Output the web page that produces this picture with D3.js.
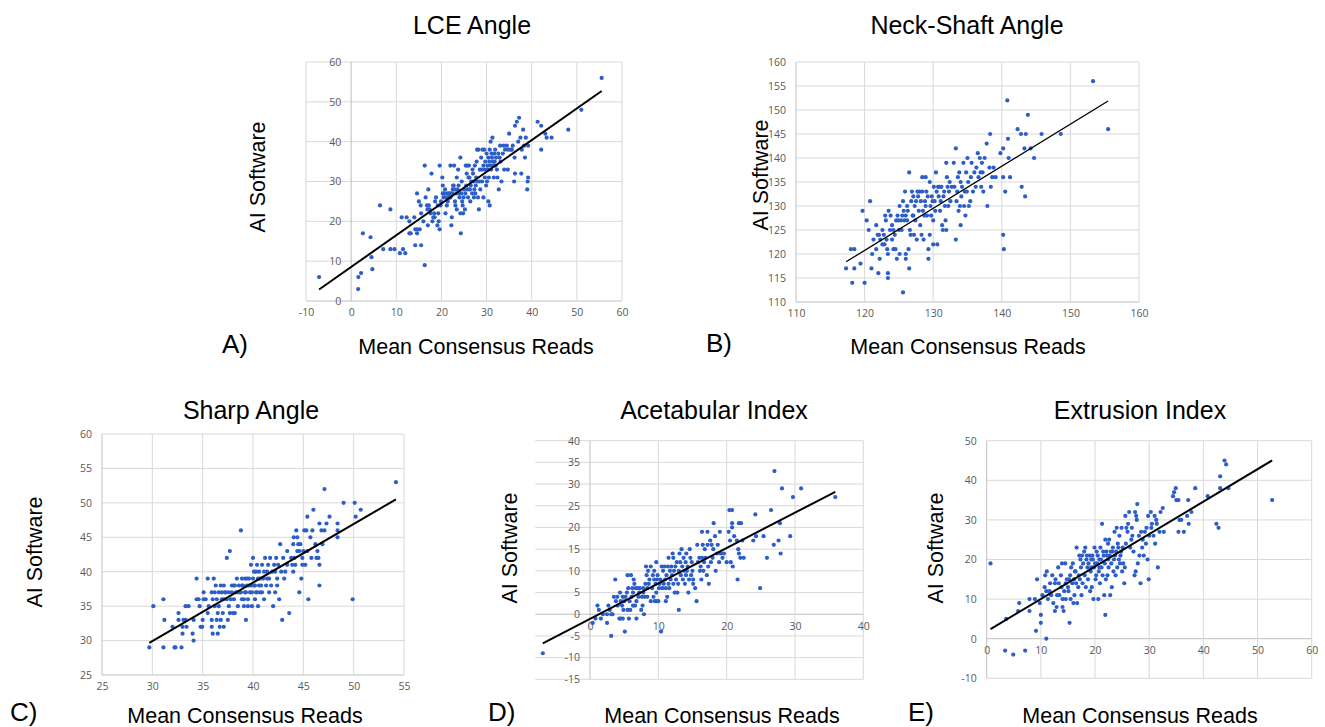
<!DOCTYPE html>
<html><head><meta charset="utf-8">
<script src="https://cdn.jsdelivr.net/npm/d3@7"></script>
<style>body{margin:0;background:#fff}svg{display:block}</style>
</head><body>
<svg id="chart" width="1325" height="727"></svg>
<script>
// ---------- DATA ----------
const panelTitles = ["LCE Angle", "Neck-Shaft Angle", "Sharp Angle", "Acetabular Index", "Extrusion Index"];
const panelLetters = ["A)", "B)", "C)", "D)", "E)"];
const xAxisTitle = "Mean Consensus Reads";
const yAxisTitle = "AI Software";

const lceXTicks = [-10, 0, 10, 20, 30, 40, 50, 60];
const lceYTicks = [0, 10, 20, 30, 40, 50, 60];
const nsaXTicks = [110, 120, 130, 140, 150, 160];
const nsaYTicks = [110, 115, 120, 125, 130, 135, 140, 145, 150, 155, 160];
const sharpXTicks = [25, 30, 35, 40, 45, 50, 55];
const sharpYTicks = [25, 30, 35, 40, 45, 50, 55, 60];
const acetXTicks = [0, 10, 20, 30, 40];
const acetYTicks = [-15, -10, -5, 0, 5, 10, 15, 20, 25, 30, 35, 40];
const extrXTicks = [0, 10, 20, 30, 40, 50, 60];
const extrYTicks = [-10, 0, 10, 20, 30, 40, 50];

// trend lines: [slope, intercept]
const lceTrend = [0.796, 8.55];
const nsaTrend = [0.877, 15.5];
const sharpTrend = [0.851, 4.38];
const acetTrend = [0.816, -1.07];
const extrTrend = [0.819, 1.85];

const lcePoints = [[-7.1,6],[1.6,6],[2.2,7],[1.55,3],[2.6,17],[4.3,16],[4.5,11],[4.7,8],[6.4,24],[7.1,13],[8.7,23],[8.7,13],[9.6,13],[10.8,12],[11.2,21],[11.5,13],[12,12],[12.3,21],[12.9,20],[12.9,17],[13.2,17],[14,21],[14.2,18],[14.2,14],[14.6,18],[14.6,17],[14.6,27],[15,25],[15.2,18],[15.4,24],[15.5,14],[15.5,22],[16,20],[16.3,34],[16.3,9],[16.5,26],[16.8,24],[17,19],[17.1,28],[17.2,24],[17.4,23],[17.8,32],[18,20],[18.2,21],[18.4,22],[18.6,25],[18.8,26],[19.1,19],[19.3,22],[19.4,20],[19.6,18],[19.6,34],[19.8,24],[20.2,31],[20.3,29],[20.3,27],[20.5,26],[20.9,22],[21.2,24],[21.4,25],[21.7,27],[21.8,26],[22,34],[22.2,19],[22.3,21],[22.5,28],[22.7,29],[22.8,34],[23,25],[23.1,24],[23.4,23],[23.4,31],[23.7,33],[23.9,27],[24,26],[24.2,22],[24.2,36],[24.3,17],[24.5,30],[24.6,25],[24.8,22],[25,28],[25.2,23],[25.4,34],[25.5,29],[25.6,32],[25.9,26],[26.1,34],[26.2,31],[26.4,25],[26.5,29],[26.8,27],[27,32],[27.1,30],[27.3,28],[27.6,29],[27.7,31],[27.9,38],[28.1,26],[28.3,23],[28.5,33],[28.6,28],[28.8,36],[29,30],[29.1,38],[29.3,26],[29.6,31],[29.7,35],[29.9,29],[30,37],[30.2,34],[30.4,25],[30.5,31],[30.7,38],[30.7,24],[30.9,40],[31,33],[31.3,41],[31.4,35],[31.6,31],[31.7,37],[31.9,38],[32,34],[32.3,33],[32.4,31],[32.7,28],[33,39],[33.1,35],[33.3,30],[33.6,37],[33.9,33],[34.1,38],[34.5,39],[34.7,33],[35,42],[35.3,38],[35.8,39],[36.1,30],[36.2,36],[36.3,32],[36.3,44],[36.7,45],[37,40],[37.2,46],[37.5,41],[37.7,32],[37.8,38],[38.1,43],[38.3,39],[38.5,36],[38.7,41],[39,28],[39.1,30],[39.2,31],[39.2,39],[41.3,45],[42.1,44],[42.1,38],[43,42],[43.3,41],[44.4,41],[48.1,43],[51,48],[55.5,56],
[20.6,27],[21,26],[21.3,27],[22,26],[22.4,27],[22.9,28],[23.3,27],[23.6,28],[24.4,27],[24.9,26],[25.3,27],[25.8,28],[26.3,28],[26.6,30],[27.2,26],[27.5,27],[27.9,30],[28.4,30],[28.9,33],[29.3,34],[29.6,33],[30.1,30],[30.3,33],[30.6,35],[30.9,34],[31.2,36],[31.5,34],[31.8,35],[32.1,36],[32.6,37],[28.2,38],[29.5,38],[30.4,36],[31.1,37],[26.9,33],[27.4,34],[25.7,34],[23.8,29],[22.6,29],[21.5,26],[20.8,28],[19.9,25],[19.2,24],[18.5,21],[17.6,22],[16.9,23],[21.9,27],[24.7,24],[26,31],[27.8,35],[32.9,36],[33.8,39],[35.6,38],[34.8,38]];

const nsaPoints = [[117.3,117],[118,121],[118.2,114],[118.5,121],[118.5,117],[119.4,118],[119.7,129],[120,114],[120.3,127],[120.6,125],[120.8,131],[121,117],[121.1,120],[121.3,123],[121.7,126],[121.7,121],[122,116],[122.1,124],[122.2,119],[122.3,123],[122.6,125],[122.6,122],[122.8,124],[123,128],[123.1,127],[123.2,123],[123.3,121],[123.4,120],[123.4,116],[123.4,115],[123.5,129],[123.7,125],[124,126],[124,123],[124.2,125],[124.2,121],[124.5,121],[124.6,127],[124.7,119],[124.8,128],[125,125],[125.1,120],[125.1,130],[125.3,127],[125.4,125],[125.5,128],[125.6,112],[125.6,131],[125.8,127],[125.9,133],[126,128],[126,120],[126,119],[126.2,130],[126.3,129],[126.4,121],[126.5,137],[126.5,117],[126.6,125],[126.7,124],[126.9,133],[127,128],[127.1,132],[127.2,124],[127.3,130],[127.4,127],[127.6,123],[127.7,133],[127.8,132],[127.9,129],[128.1,126],[128.2,131],[128.3,124],[128.4,136],[128.4,133],[128.6,123],[128.7,128],[128.8,131],[128.9,136],[129,133],[129.1,128],[129.3,119],[129.3,121],[129.5,135],[129.5,124],[129.6,130],[129.8,132],[130,127],[130,122],[130.1,134],[130.2,131],[130.3,129],[130.4,137],[130.6,122],[130.7,134],[130.8,132],[131,129],[131.2,134],[131.3,126],[131.4,125],[131.5,132],[131.7,130],[131.8,127],[131.9,125],[131.9,139],[132,136],[132.1,134],[132.2,130],[132.3,133],[132.5,131],[133,139],[133.3,142],[133.3,123],[133.4,131],[133.5,133],[133.7,129],[133.8,137],[133.9,130],[134,126],[134,135],[134.1,132],[134.2,134],[134.4,139],[134.5,130],[134.7,128],[134.9,133],[135,140],[135.1,135],[135.2,130],[135.4,131],[135.6,139],[135.8,133],[136.2,134],[136.3,138],[136.5,141],[136.6,136],[136.8,140],[137,134],[137.1,139],[137.3,133],[137.5,140],[137.8,143],[137.9,130],[138.2,138],[138.3,145],[138.4,134],[138.6,136],[138.8,138],[139.1,136],[139.8,141],[140.2,142],[140.2,124],[140.2,136],[140.3,121],[140.5,133],[140.8,152],[140.9,144],[141,140],[141.2,136],[142.3,146],[142.8,145],[142.9,134],[143.3,142],[143.4,132],[143.5,145],[143.8,149],[144.2,142],[144.7,140],[145.8,145],[148.6,145],[153.3,156],[155.5,146],
[124.9,127],[125.7,129],[126.8,131],[127.5,131],[128,133],[128.5,129],[129.2,132],[129.9,131],[130.5,133],[131.1,131],[131.6,133],[132.7,134],[133.1,134],[134.6,133],[135.5,136],[136,137],[136.9,137],[137.2,137],[126.2,127],[127.1,128],[128.9,130],[130.9,134],[132.4,135],[134.8,137],[122.9,122],[124.4,124],[121.9,124],[123.8,128],[129.7,128],[133.6,136]];

const sharpPoints = [[29.7,29],[30.1,35],[31.1,29],[31.1,36],[31.2,33],[32,32],[32.2,29],[32.3,29],[32.6,34],[32.6,33],[32.9,29],[33,31],[33,32],[33.1,33],[33.3,33],[33.3,35],[33.4,32],[33.6,35],[34,31],[34.1,33],[34.1,30],[34.4,39],[34.4,36],[34.6,36],[34.7,35],[34.8,32],[34.96,32],[35,33],[35.1,37],[35.1,36],[35.3,36],[35.5,39],[35.5,34],[35.6,35],[35.9,37],[35.9,32],[35.9,33],[36,31],[36,36],[36.1,39],[36.2,35],[36.3,38],[36.4,33],[36.4,36],[36.5,31],[36.5,34],[36.6,37],[36.6,35],[36.7,32],[36.8,38],[36.8,33],[36.9,36],[37,34],[37.1,38],[37.1,32],[37.2,37],[37.4,42],[37.4,36],[37.5,33],[37.6,35],[37.7,43],[37.7,34],[37.8,36],[37.9,37],[38,34],[38.1,38],[38.1,36],[38.2,34],[38.3,37],[38.4,39],[38.5,35],[38.6,38],[38.7,37],[38.8,46],[38.9,39],[38.9,36],[39,38],[39.1,35],[39.2,37],[39.2,39],[39.3,33],[39.4,38],[39.5,36],[39.5,35],[39.6,39],[39.7,37],[39.8,41],[39.8,38],[39.9,35],[40,39],[40,42],[40.1,40],[40.2,36],[40.2,38],[40.3,37],[40.4,41],[40.5,39],[40.5,35],[40.6,40],[40.7,37],[40.8,38],[40.9,41],[41,39],[41.1,36],[41.2,42],[41.3,38],[41.4,40],[41.5,41],[41.6,37],[41.6,39],[41.7,42],[41.8,38],[41.9,40],[42,35],[42.1,41],[42.2,37],[42.3,42],[42.4,39],[42.4,38],[42.5,41],[42.6,36],[42.7,44],[42.8,40],[42.9,33],[43,42],[43.1,39],[43.2,40],[43.4,41],[43.6,34],[43.8,42],[43.9,41],[44,44],[44,40],[44.05,45],[44.2,41],[44.3,46],[44.4,45],[44.4,43],[44.5,44],[44.6,37],[44.6,43],[44.7,44],[44.8,39],[44.9,42],[44.9,41],[45,43],[45.1,46],[45.2,41],[45.3,46],[45.4,48],[45.4,43],[45.5,36],[45.7,45],[45.8,42],[45.9,46],[46,49],[46.2,44],[46.3,42],[46.4,43],[46.5,42],[46.6,41],[46.6,38],[46.6,47],[46.8,46],[46.9,44],[47.1,52],[47.1,46],[47.3,47],[47.6,48],[48.4,47],[48.4,46],[48.4,45],[49,50],[49.9,36],[50.1,50],[50.2,48],[50.7,49],[54.2,53],
[38.2,38],[38.5,37],[38.8,37],[39.3,37],[39.6,38],[39.9,37],[40.1,38],[40.4,37],[40.6,38],[40.9,37],[41.1,40],[40.3,40],[39.4,39],[38.9,38],[37.3,37],[37.6,37],[36.9,37],[37.9,38],[39.1,36],[40.7,39],[41.4,39],[42.2,40],[43.4,43],[44.1,42],[37.1,36],[36.2,37]];

const acetPoints = [[-6.9,-9],[0.4,-2],[0.8,-1],[1.1,2],[1.3,1],[1.6,-1],[1.9,0],[2.5,-2],[2.5,0],[2.7,2],[2.9,1],[3.1,-5],[3.1,0],[3.3,0],[3.5,4],[3.7,8],[3.8,3],[4,4],[4.05,2],[4.3,-1],[4.4,5],[4.5,3],[4.5,-1],[4.7,2],[4.8,4],[4.8,-1],[4.9,1],[5,3],[5.1,-4],[5.2,4],[5.4,5],[5.5,1],[5.5,9],[5.6,6],[5.7,-1],[5.8,3],[5.9,1],[6,9],[6.1,4],[6.2,6],[6.3,2],[6.3,5],[6.4,8],[6.5,7],[6.6,2],[6.7,6],[6.8,3],[6.8,-1],[7,6],[7.1,4],[7.2,5],[7.3,6],[7.5,1],[7.6,4],[7.7,2],[7.8,6],[7.8,5],[7.9,0],[8,4],[8.1,7],[8.2,11],[8.3,9],[8.4,4],[8.4,6],[8.5,10],[8.6,7],[8.7,8],[8.9,3],[8.9,11],[9.1,6],[9.2,9],[9.3,4],[9.4,8],[9.4,10],[9.5,3],[9.6,7],[9.7,12],[9.7,5],[9.8,3],[9.8,8],[9.9,9],[10,3],[10.1,6],[10.2,7],[10.3,8],[10.4,-4],[10.5,11],[10.6,6],[10.7,10],[10.8,7],[10.9,11],[11,8],[11.1,3],[11.1,6],[11.2,9],[11.3,4],[11.4,11],[11.5,7],[11.5,13],[11.6,6],[11.7,10],[11.8,8],[11.9,11],[12,9],[12.1,14],[12.2,7],[12.2,13],[12.3,10],[12.4,5],[12.5,11],[12.6,8],[12.7,12],[12.8,5],[12.9,7],[13,1],[13,10],[13.1,14],[13.2,12],[13.3,9],[13.4,15],[13.5,11],[13.6,8],[13.7,13],[13.8,10],[13.9,7],[14,12],[14.05,9],[14.1,14],[14.2,10],[14.3,11],[14.4,5],[14.5,8],[14.6,15],[14.7,13],[14.8,9],[14.9,12],[15,10],[15.1,7],[15.1,8],[15.4,6],[15.6,3],[15.7,16],[15.8,12],[16,13],[16.1,10],[16.2,11],[16.3,8],[16.4,13],[16.4,19],[16.5,16],[16.6,10],[16.7,12],[16.8,15],[16.9,13],[17.1,9],[17.2,16],[17.2,19],[17.3,11],[17.4,7],[17.6,17],[17.7,12],[17.8,16],[17.95,13],[18.05,15],[18.1,21],[18.3,18],[18.4,10],[18.6,14],[18.7,16],[18.9,12],[19,19],[19.1,14],[19.4,13],[19.6,14],[20,12],[20.3,19],[20.4,24],[20.5,17],[20.6,12],[20.8,24],[20.8,21],[20.8,20],[20.9,11],[21.1,18],[21.5,17],[21.6,8],[21.7,15],[21.8,21],[21.8,14],[22,13],[22.1,21],[22.3,17],[22.5,13],[23.9,17],[24.2,23],[24.3,18],[24.9,6],[25.4,18],[25.9,13],[26.5,24],[26.9,16],[27,33],[27.6,17],[27.8,21],[27.9,14],[28.1,29],[29.3,18],[29.7,27],[30.9,29],[35.9,27]];

const extrPoints = [[0.7,19],[3.4,-3],[3.6,5],[4.9,-4],[5.8,7],[6,9],[7.1,-3],[7.9,7],[7.9,10],[8.9,10],[9.1,2],[9.3,15],[9.8,9],[10,6],[10,4],[10.3,11],[10.7,13],[10.8,16],[11,12],[11,0],[11.1,17],[11.3,10],[11.6,12],[11.7,14],[11.9,11],[12.1,16],[12.3,9],[12.6,7],[12.6,14],[12.7,15],[12.9,8],[13,11],[13.2,18],[13.3,14],[13.4,11],[13.7,16],[13.8,13],[13.9,19],[14,8],[14,10],[14.2,7],[14.3,12],[14.5,19],[14.6,10],[14.6,14],[14.8,15],[15,13],[15.1,12],[15.3,4],[15.4,16],[15.5,10],[15.6,18],[15.8,14],[15.9,19],[16,9],[16.1,15],[16.2,11],[16.4,17],[16.5,14],[16.6,23],[16.7,9],[16.9,13],[17,16],[17.1,21],[17.2,15],[17.4,18],[17.5,11],[17.6,21],[17.7,14],[17.8,19],[18,22],[18.1,16],[18.2,23],[18.3,13],[18.5,21],[18.6,18],[18.7,15],[18.8,19],[19,21],[19.1,12],[19.2,17],[19.3,20],[19.4,13],[19.6,20],[19.7,10],[19.8,18],[19.9,23],[20.1,15],[20.2,16],[20.3,22],[20.4,19],[20.6,10],[20.7,17],[20.8,20],[20.9,14],[21,23],[21.2,18],[21.3,29],[21.4,16],[21.5,22],[21.7,11],[21.8,19],[21.9,6],[21.9,25],[22,15],[22.2,21],[22.3,16],[22.4,24],[22.5,18],[22.6,25],[22.8,11],[22.9,22],[23,19],[23.1,13],[23.3,23],[23.4,17],[23.5,20],[23.6,27],[23.8,16],[23.9,22],[24,28],[24.1,18],[24.2,24],[24.4,20],[24.5,26],[24.6,19],[24.7,21],[24.9,28],[25,17],[25.1,23],[25.2,19],[25.4,14],[25.5,18],[25.6,31],[25.7,24],[25.8,28],[26.1,29],[26.3,32],[26.5,23],[26.7,25],[26.8,28],[27.1,22],[27.3,16],[27.4,32],[27.5,17],[27.6,31],[27.7,30],[27.8,34],[27.9,19],[28.1,26],[28.2,21],[28.4,14],[28.7,23],[28.8,25],[29,21],[29.2,27],[29.4,24],[29.7,20],[29.8,31],[29.9,15],[30,26],[30.3,32],[30.4,28],[30.5,29],[30.8,26],[31,31],[31.1,24],[31.3,30],[31.4,29],[31.6,18],[31.9,27],[32.1,32],[32.5,33],[32.7,27],[34.4,36],[34.6,37],[34.9,38],[35,35],[35.4,27],[35.4,35],[35.6,30],[35.9,30],[36.4,27],[37,31],[37.2,35],[37.3,29],[37.8,32],[38.5,38],[40.8,36],[42.4,29],[42.8,28],[43.1,41],[43.1,38],[43.9,45],[44.2,44],[44.6,38],[52.7,35],
[18.4,20],[19.5,21],[20,19],[20.5,21],[21.1,20],[21.6,21],[22.1,22],[22.7,21],[23.2,22],[23.7,21],[24.3,23],[24.8,22],[19.3,18],[20.8,18],[22.4,20],[17.3,20],[16.3,17],[15.2,15],[26,27],[26.9,26],[28.5,27],[29.5,28]];

// ---------- DRAW ----------
const svg = d3.select("#chart");
const tickFont = "'Open Sans', 'Liberation Sans', sans-serif";
const textFont = "'Liberation Sans', Arial, sans-serif";
const dotColor = "#2d5ec8";

function drawPanel(o) {
  const x = d3.scaleLinear().domain(o.xDom).range(o.xRange);
  const y = d3.scaleLinear().domain(o.yDom).range(o.yRange);
  const g = svg.append("g");

  // horizontal gridlines
  g.append("g").selectAll("line").data(o.yTicks).join("line")
    .attr("x1", x(o.xDom[0])).attr("x2", x(o.xDom[1]))
    .attr("y1", d => y(d)).attr("y2", d => y(d))
    .attr("stroke", d => d === o.xAxisAt ? "#bfbfbf" : "#d9d9d9").attr("stroke-width", 1);
  // vertical gridlines
  g.append("g").selectAll("line").data(o.xTicks).join("line")
    .attr("x1", d => x(d)).attr("x2", d => x(d))
    .attr("y1", y(o.yDom[0])).attr("y2", y(o.yDom[1]))
    .attr("stroke", d => d === o.yAxisAt ? "#bfbfbf" : "#d9d9d9").attr("stroke-width", 1);

  const fmt = d => String(d);
  // y axis labels
  const yAx = g.append("g").attr("transform", `translate(${x(o.yAxisAt)},0)`)
    .call(d3.axisLeft(y).tickValues(o.yTicks).tickSize(0).tickPadding(o.yPad || 10).tickFormat(fmt));
  yAx.select(".domain").remove();
  yAx.selectAll("text").attr("font-family", tickFont).attr("font-size", 10.5).attr("fill", "#595959");

  const xAx = g.append("g").attr("transform", `translate(0,${y(o.xAxisAt)})`)
    .call(d3.axisBottom(x).tickValues(o.xTicks).tickSize(0).tickPadding(o.xPad || 8).tickFormat(fmt));
  xAx.select(".domain").remove();
  xAx.selectAll("text").attr("font-family", tickFont).attr("font-size", 10.5).attr("fill", "#595959");

  // points
  g.append("g").selectAll("circle").data(o.points).join("circle")
    .attr("cx", d => x(d[0])).attr("cy", d => y(d[1])).attr("r", 2.1).attr("fill", dotColor);

  // trend line over data extent
  const ext = d3.extent(o.points, d => d[0]);
  const line = d3.line().x(d => x(d)).y(d => y(o.trend[0] * d + o.trend[1]));
  g.append("path").attr("d", line(ext)).attr("fill", "none").attr("stroke", "#000").attr("stroke-width", o.lw || 2);

  // texts
  g.append("text").attr("x", o.title[0]).attr("y", o.title[1]).attr("text-anchor", "middle")
    .attr("font-family", textFont).attr("font-size", 25).attr("fill", "#000").text(o.titleText);
  g.append("text").attr("transform", `translate(${o.yt[0]},${o.yt[1]}) rotate(-90)`)
    .attr("text-anchor", "middle").attr("dominant-baseline", "central")
    .attr("font-family", textFont).attr("font-size", 21.5).attr("fill", "#000").text(yAxisTitle);
  g.append("text").attr("x", o.xt[0]).attr("y", o.xt[1]).attr("text-anchor", "middle")
    .attr("font-family", textFont).attr("font-size", 21.5).attr("fill", "#000").text(xAxisTitle);
  g.append("text").attr("x", o.letter[0]).attr("y", o.letter[1])
    .attr("font-family", textFont).attr("font-size", 26).attr("fill", "#000").text(o.letterText);
}

drawPanel({points: lcePoints, trend: lceTrend, xTicks: lceXTicks, yTicks: lceYTicks,
  xDom: [-10, 60], xRange: [306, 622], yDom: [0, 60], yRange: [301, 62], xAxisAt: 0, yAxisAt: 0,
  titleText: panelTitles[0], letterText: panelLetters[0],
  title: [472, 34], yt: [258, 177], xt: [476, 354], letter: [222, 353]});

drawPanel({points: nsaPoints, trend: nsaTrend, xTicks: nsaXTicks, yTicks: nsaYTicks, lw: 1.3,
  xDom: [110, 160], xRange: [796, 1139], yDom: [110, 160], yRange: [302, 62], xAxisAt: 110, yAxisAt: 110,
  titleText: panelTitles[1], letterText: panelLetters[1],
  title: [967, 34], yt: [761, 175], xt: [968, 354], letter: [706, 352]});

drawPanel({points: sharpPoints, trend: sharpTrend, xTicks: sharpXTicks, yTicks: sharpYTicks,
  xDom: [25, 55], xRange: [102, 404], yDom: [25, 60], yRange: [675, 434], xAxisAt: 25, yAxisAt: 25,
  titleText: panelTitles[2], letterText: panelLetters[2],
  title: [251, 419], yt: [35, 552], xt: [245, 723], letter: [10, 721]});

drawPanel({points: acetPoints, trend: acetTrend, xTicks: acetXTicks, yTicks: acetYTicks,
  xDom: [-8, 40], xRange: [535.3, 863.3], yDom: [-15, 40], yRange: [679.3, 440.7], xAxisAt: 0, yAxisAt: 0,
  titleText: panelTitles[3], letterText: panelLetters[3],
  title: [714, 419], yt: [510, 548], xt: [722, 723], letter: [488, 721]});

drawPanel({points: extrPoints, trend: extrTrend, xTicks: extrXTicks, yTicks: extrYTicks,
  xDom: [0, 60], xRange: [986.7, 1311.7], yDom: [-10, 50], yRange: [678.3, 440.7], xAxisAt: 0, yAxisAt: 0,
  titleText: panelTitles[4], letterText: panelLetters[4],
  title: [1140, 419], yt: [936, 548], xt: [1140, 723], letter: [908, 721]});
</script>
</body></html>
